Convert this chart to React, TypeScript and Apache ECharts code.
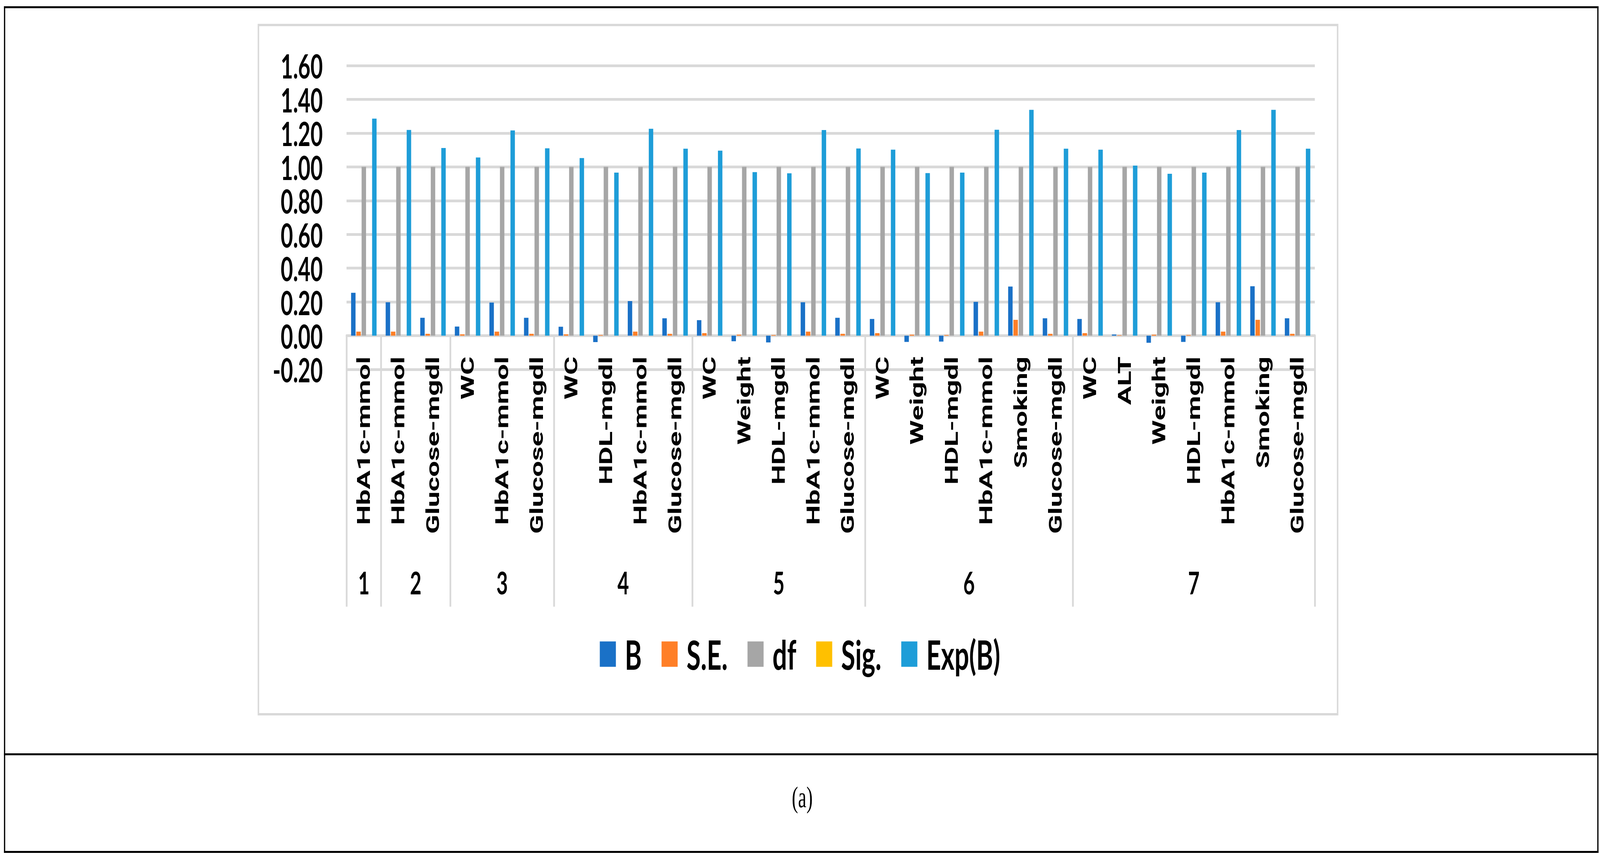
import React, { useEffect, useRef } from "react";
import * as echarts from "echarts";

// ---- data ----
const groupLabels = ["1", "2", "3", "4", "5", "6", "7"];
const groupSizes = [1, 2, 3, 4, 5, 6, 7];
const categories = [
  "HbA1c-mmol",
  "HbA1c-mmol", "Glucose-mgdl",
  "WC", "HbA1c-mmol", "Glucose-mgdl",
  "WC", "HDL-mgdl", "HbA1c-mmol", "Glucose-mgdl",
  "WC", "Weight", "HDL-mgdl", "HbA1c-mmol", "Glucose-mgdl",
  "WC", "Weight", "HDL-mgdl", "HbA1c-mmol", "Smoking", "Glucose-mgdl",
  "WC", "ALT", "Weight", "HDL-mgdl", "HbA1c-mmol", "Smoking", "Glucose-mgdl",
];
const seriesNames = ["B", "S.E.", "df", "Sig.", "Exp(B)"];
const valuesB = [
  0.254,
  0.198, 0.106,
  0.054, 0.196, 0.106,
  0.053, -0.038, 0.205, 0.103,
  0.092, -0.033, -0.040, 0.198, 0.106,
  0.099, -0.037, -0.035, 0.200, 0.291, 0.103,
  0.099, 0.007, -0.042, -0.037, 0.198, 0.293, 0.103,
];
const valuesSE = [
  0.024,
  0.024, 0.011,
  0.008, 0.024, 0.011,
  0.008, 0.004, 0.024, 0.011,
  0.015, 0.006, 0.004, 0.024, 0.011,
  0.015, 0.006, 0.004, 0.024, 0.094, 0.011,
  0.015, 0.003, 0.006, 0.004, 0.024, 0.094, 0.011,
];
const valuesDf = [
  1,
  1, 1,
  1, 1, 1,
  1, 1, 1, 1,
  1, 1, 1, 1, 1,
  1, 1, 1, 1, 1, 1,
  1, 1, 1, 1, 1, 1, 1,
];
const valuesSig = [
  0,
  0, 0,
  0, 0, 0,
  0, 0, 0, 0,
  0, 0, 0, 0, 0,
  0, 0, 0, 0, 0, 0,
  0, 0, 0, 0, 0, 0, 0,
];
const valuesExpB = [
  1.286,
  1.219, 1.112,
  1.056, 1.216, 1.110,
  1.052, 0.966, 1.226, 1.108,
  1.096, 0.969, 0.962, 1.218, 1.109,
  1.102, 0.963, 0.966, 1.220, 1.338, 1.108,
  1.102, 1.008, 0.959, 0.966, 1.218, 1.338, 1.108,
];
const yMin = -0.2;
const yMax = 1.6;
const yStep = 0.2;
const caption = "(a)";

const colors = ["#1A71C7", "#FF7F27", "#A6A6A6", "#FFC000", "#1E9DD8"];

const W = 6464;
const H = 2215;

export default function App() {
  const ref = useRef<HTMLDivElement>(null);
  const sx = typeof window !== "undefined" ? window.innerWidth / W : 1;
  const sy = typeof window !== "undefined" ? window.innerHeight / H : 1;

  useEffect(() => {
    document.body.style.margin = "0";
    document.body.style.overflow = "hidden";
    if (!ref.current) return;
    const chart = echarts.init(ref.current, undefined, { renderer: "svg" });

    const groupStarts: number[] = [];
    const groupCenters: number[] = [];
    let acc = 0;
    groupSizes.forEach((s) => {
      groupStarts.push(acc);
      groupCenters.push(acc + s / 2);
      acc += s;
    });

    const seriesData = [valuesB, valuesSE, valuesDf, valuesSig, valuesExpB];
    const gridColor = "#D9D9D9";

    const option: any = {
      animation: false,
      backgroundColor: "#ffffff",
      grid: {
        left: 1400,
        right: 1152,
        top: 168,
        bottom: 1269,
        outerBoundsMode: "none",
        containLabel: false,
      },
      legend: {
        data: seriesNames,
        left: "center",
        top: 1618,
        icon: "rect",
        itemWidth: 65,
        itemHeight: 65,
        itemGap: 80,
        textStyle: {
          fontFamily: "Lato",
          fontWeight: "bold",
          fontSize: 104,
          color: "#000",
          lineHeight: 65,
          padding: [0, 0, 0, 31],
        },
      },
      xAxis: [
        {
          type: "category",
          data: categories,
          boundaryGap: true,
          axisLine: {
            show: true,
            onZero: true,
            lineStyle: { color: gridColor, width: 7 },
          },
          axisTick: {
            show: true,
            alignWithLabel: false,
            interval: (index: number) => groupStarts.indexOf(index) >= 0,
            length: 694,
            lineStyle: { color: gridColor, width: 7 },
          },
          axisLabel: {
            interval: 0,
            rotate: 90,
            margin: -33,
            fontFamily: "Roboto",
            fontWeight: "bold",
            fontSize: 72,
            color: "#000",
          },
          splitLine: { show: false },
        },
        {
          type: "value",
          position: "bottom",
          min: 0,
          max: categories.length,
          interval: 0.5,
          axisLine: { show: false, onZero: false },
          axisTick: { show: false },
          splitLine: { show: false },
          axisLabel: {
            margin: 505,
            fontFamily: "Lato",
            fontWeight: "bold",
            fontSize: 80,
            color: "#000",
            formatter: (v: number) => {
              const i = groupCenters.findIndex((c) => Math.abs(c - v) < 1e-6);
              return i >= 0 ? groupLabels[i] : "";
            },
          },
        },
      ],
      yAxis: {
        type: "value",
        min: yMin,
        max: yMax,
        interval: yStep,
        axisLine: { show: false },
        axisTick: { show: false },
        splitLine: { show: true, lineStyle: { color: gridColor, width: 7 } },
        axisLabel: {
          margin: 96,
          fontFamily: "Lato",
          fontWeight: "bold",
          fontSize: 86,
          color: "#000",
          showMinLabel: true,
          showMaxLabel: true,
          formatter: (v: number) => (Math.abs(v) < 1e-9 ? "0.00" : v.toFixed(2)),
        },
      },
      series: seriesNames.map((name, i) => ({
        name,
        type: "bar",
        xAxisIndex: 0,
        yAxisIndex: 0,
        data: seriesData[i],
        barWidth: 18,
        barGap: "18%",
        itemStyle: { color: colors[i] },
      })),
      graphic: [
        // chart area border
        {
          type: "rect",
          shape: { x: 1044, y: 64, width: 4360, height: 1765 },
          style: { fill: "none", stroke: gridColor, lineWidth: 6 },
          silent: true,
          z: -10,
        },
        // table frame lines
        { type: "rect", shape: { x: 16, y: 16, width: 6442, height: 5 }, style: { fill: "#000" }, silent: true },
        { type: "rect", shape: { x: 16, y: 16, width: 5, height: 2168 }, style: { fill: "#000" }, silent: true },
        { type: "rect", shape: { x: 6453, y: 16, width: 5, height: 2168 }, style: { fill: "#000" }, silent: true },
        { type: "rect", shape: { x: 16, y: 1929, width: 6442, height: 5 }, style: { fill: "#000" }, silent: true },
        { type: "rect", shape: { x: 16, y: 2179, width: 6442, height: 5 }, style: { fill: "#000" }, silent: true },
        {
          type: "text",
          x: 3241,
          y: 2041,
          style: {
            text: caption,
            fontFamily: "Liberation Serif",
            fontSize: 76,
            fill: "#000",
            textAlign: "center",
            textVerticalAlign: "middle",
          },
          silent: true,
        },
      ],
    };

    chart.setOption(option);
    return () => chart.dispose();
  }, []);

  return (
    <div style={{ width: W * sx, height: H * sy, overflow: "hidden", position: "relative" }}>
      <div
        ref={ref}
        style={{
          width: W,
          height: H,
          transform: `scale(${sx}, ${sy})`,
          transformOrigin: "0 0",
          position: "absolute",
          left: 0,
          top: 0,
        }}
      />
    </div>
  );
}
